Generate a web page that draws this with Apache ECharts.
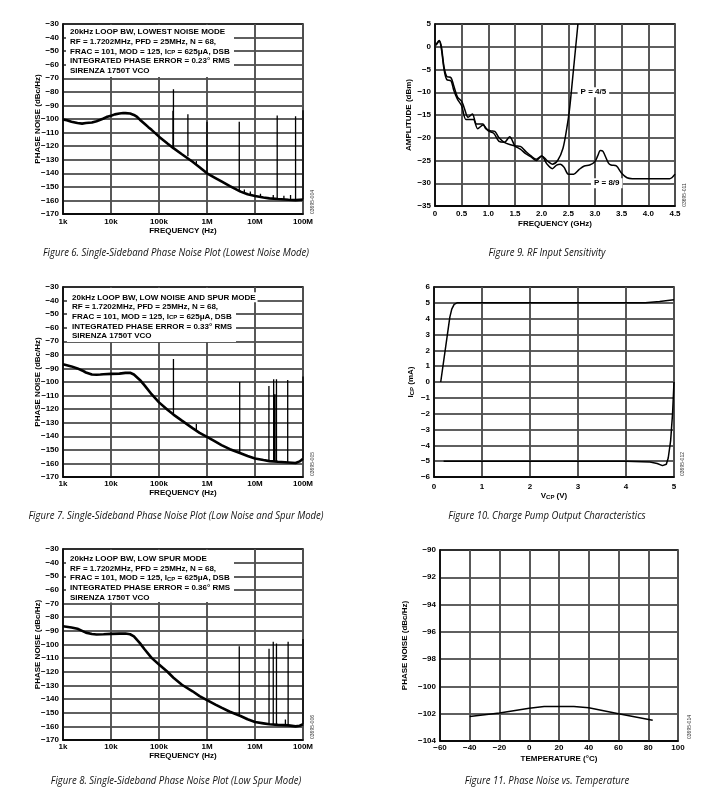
<!DOCTYPE html>
<html><head><meta charset="utf-8">
<script src="https://cdn.jsdelivr.net/npm/echarts@6/dist/echarts.min.js"></script>
<style>html,body{margin:0;padding:0;background:#fff}#c{width:717px;height:805px}</style>
</head><body><div id="c"></div>
<script>
// ---------- DATA ----------
const freqTickLabels = ['1k', '10k', '100k', '1M', '10M', '100M'];

// Figure 6 (lowest noise mode)
const fig6Freq  = [1e3,1.2e3,1.5e3,2e3,2.5e3,3e3,4e3,5e3,6e3,7e3,8e3,1e4,1.2e4,1.5e4,1.8e4,2e4,2.5e4,3e4,3.5e4,4e4,5e4,6e4,7e4,1e5,1.5e5,2e5,3e5,5e5,7e5,1e6,1.5e6,2e6,3e6,5e6,7e6,1e7,1.5e7,2e7,3e7,5e7,7e7,1e8];
const fig6Level = [-100.3,-101,-102,-103,-103.4,-103,-102.6,-101.6,-100.6,-99.6,-98.6,-97.6,-96.6,-96,-95.6,-95.7,-96,-97,-98.5,-100.5,-103.5,-106,-108,-113,-118,-121.5,-126,-131.5,-135.5,-140,-143.5,-146,-149.5,-153.5,-155.5,-156.8,-157.8,-158.5,-159,-159.5,-159.8,-159.3];
const fig6SpurFreq = [1.95e5,2e5,4e5,6e5,1e6,4.7e6,6e6,8e6,1.3e7,2.4e7,2.9e7,4e7,5.5e7,7e7,1e8];
const fig6SpurTop  = [-94,-78,-96.5,-131,-102,-102,-152,-153.5,-155,-156,-97.5,-156.5,-156,-98,-93.5];
const fig6SpurBase = [-121.3,-121.5,-127.5,-133.5,-140,-153.2,-154.2,-155.6,-157.6,-158.7,-159,-159.3,-159.6,-159.8,-159.3];

// Figure 7 (low noise and spur mode)
const fig7Freq  = [1e3,1.5e3,2e3,2.5e3,3e3,4e3,5e3,6e3,7e3,1e4,1.5e4,2e4,2.5e4,3e4,4e4,5e4,7e4,1e5,1.5e5,2e5,3e5,5e5,7e5,1e6,1.5e6,2e6,3e6,5e6,7e6,1e7,1.5e7,2e7,3e7,5e7,7e7,8.5e7,1e8];
const fig7Level = [-87,-88.5,-90,-91.5,-93,-94.5,-94.7,-94.5,-94.3,-94,-93.8,-93.3,-93.2,-94.5,-98.5,-102.5,-109,-115,-120.5,-124,-128.5,-134,-137.5,-140.5,-144,-146.5,-149.5,-152.5,-154.5,-156.3,-157.5,-158.3,-158.8,-159.3,-159.7,-158.5,-156.5];
const fig7SpurFreq = [2e5,6e5,4.8e6,1.95e7,2.45e7,2.6e7,2.8e7,4.8e7,1e8];
const fig7SpurTop  = [-83,-131,-100,-103,-98,-109,-98,-98.5,-96];
const fig7SpurBase = [-124,-135.5,-152.4,-158.2,-158.4,-158.5,-158.7,-159.2,-156.5];

// Figure 8 (low spur mode)
const fig8Freq  = [1e3,1.5e3,2e3,2.5e3,3e3,4e3,5e3,7e3,1e4,1.5e4,2e4,2.5e4,3e4,4e4,5e4,7e4,1e5,1.5e5,2e5,3e5,5e5,7e5,1e6,1.5e6,2e6,3e6,5e6,7e6,1e7,1.5e7,2e7,3e7,5e7,7e7,8.5e7,1e8];
const fig8Level = [-86.6,-87.5,-88.5,-90,-91.3,-92.3,-92.7,-92.5,-92.2,-92,-92,-92.5,-94,-99,-103.5,-109.8,-114.6,-120,-124.4,-129.5,-134.3,-137.8,-140.7,-144,-146.3,-149.3,-152.4,-154.8,-156.8,-157.8,-158.5,-158.9,-159.3,-160,-159.5,-158.5];
const fig8SpurFreq = [4.7e6,1.96e7,2.4e7,2.8e7,4.3e7,4.9e7,1e8];
const fig8SpurTop  = [-101.2,-103.2,-98,-99.3,-155,-98,-95.9];
const fig8SpurBase = [-152.3,-158.5,-158.6,-158.8,-159.2,-159.3,-158.5];

// Figure 9 (RF input sensitivity)
const rf45Freq = [0.02,0.08,0.12,0.17,0.22,0.3,0.35,0.42,0.5,0.55,0.62,0.7,0.78,0.9,0.95,1.05,1.12,1.2,1.3,1.4,1.5,1.6,1.7,1.8,1.9,2.0,2.1,2.2,2.3,2.4,2.47,2.52,2.58,2.63,2.68];
const rf45Amp  = [0.5,1.4,0,-4.5,-6.5,-6.8,-8.5,-11,-12,-13.5,-15.5,-14.8,-17,-17,-18,-18.5,-18.6,-20,-21,-21.5,-21.8,-21.9,-23,-24,-24.7,-24,-25,-25.8,-25,-22.3,-18,-14,-7,-1,5];
const rf89Freq = [0.02,0.08,0.12,0.17,0.22,0.3,0.35,0.42,0.5,0.58,0.65,0.72,0.8,0.9,1.0,1.1,1.2,1.3,1.4,1.5,1.6,1.7,1.8,1.9,2.0,2.1,2.2,2.28,2.35,2.42,2.5,2.6,2.7,2.8,2.9,3.0,3.05,3.1,3.15,3.25,3.3,3.4,3.5,3.6,3.7,4.0,4.4,4.5];
const rf89Amp  = [0.3,1.2,-0.5,-5,-7.2,-7.5,-9.5,-11.5,-13,-16,-16,-16,-18,-17.2,-18.5,-19,-20.8,-21,-19.8,-21.8,-22.5,-23.5,-24.2,-25,-24,-25.8,-26.8,-26,-25.8,-26.5,-28,-28,-27,-26.2,-26,-25.2,-24,-22.8,-23,-25.5,-26,-26.2,-27.8,-28.8,-29,-29,-29,-28];
const rf45LabelAt = [2.97, -10];
const rf89LabelAt = [3.22, -30];

// Figure 10 (charge pump output)
const cpSourceV = [0.14,0.33,0.37,0.42,0.48,1,2,3,4,4.4,4.7,5];
const cpSourceI = [0,4.1,4.6,4.9,5.0,5,5,5,5,5.0,5.08,5.2];
const cpSinkV   = [0.2,1,2,3,4,4.5,4.65,4.76,4.84,4.88,4.93,4.97,5];
const cpSinkI   = [-5,-5,-5,-5,-5,-5.05,-5.15,-5.28,-5.2,-4.8,-3.7,-2,0];

// Figure 11 (phase noise vs temperature)
const tempC     = [-40,-20,0,10,30,40,60,83];
const tempNoise = [-102.2,-101.95,-101.6,-101.47,-101.47,-101.57,-102.0,-102.48];

// Texts
const notes6 = ['20kHz LOOP BW, LOWEST NOISE MODE','RF = 1.7202MHz, PFD = 25MHz, N = 68,','FRAC = 101, MOD = 125, I{sub|CP} = 625\u03bcA, DSB','INTEGRATED PHASE ERROR = 0.23\u00b0 RMS','SIRENZA 1750T VCO'];
const notes7 = ['20kHz LOOP BW, LOW NOISE AND SPUR MODE','RF = 1.7202MHz, PFD = 25MHz, N = 68,','FRAC = 101, MOD = 125, I{sub|CP} = 625\u03bcA, DSB','INTEGRATED PHASE ERROR = 0.33\u00b0 RMS','SIRENZA 1750T VCO'];
const notes8 = ['20kHz LOOP BW, LOW SPUR MODE','RF = 1.7202MHz, PFD = 25MHz, N = 68,','FRAC = 101, MOD = 125, I{sub|CP} = 625\u03bcA, DSB','INTEGRATED PHASE ERROR = 0.36\u00b0 RMS','SIRENZA 1750T VCO'];
const captions = ['Figure 6. Single-Sideband Phase Noise Plot (Lowest Noise Mode)','Figure 9. RF Input Sensitivity','Figure 7. Single-Sideband Phase Noise Plot (Low Noise and Spur Mode)','Figure 10. Charge Pump Output Characteristics','Figure 8. Single-Sideband Phase Noise Plot (Low Spur Mode)','Figure 11. Phase Noise vs. Temperature'];
const codes = ['03695-004','03695-011','03695-005','03695-012','03695-006','03695-014'];

// ---------- CHART ----------
const FONT = '"Liberation Sans", Arial, Helvetica, sans-serif';
const CAPFONT = '"Open Sans", "Noto Sans", sans-serif';
const CAPSIZE = 11;
const zip = (a, b) => a.map((v, i) => [v, b[i]]);
const spurs = (f, top, base) => { const d = []; f.forEach((v, i) => { d.push([v, base[i]], [v, top[i]], [v, '-']); }); return d; };
const minus = v => (v < 0 ? '\u2212' : '') + Math.abs(Math.round(v * 100) / 100);
const subRich = { sub: { fontFamily: FONT, fontWeight: 'bold', fontSize: 6, color: '#000', lineHeight: 6, verticalAlign: 'bottom', padding: [0, 0, 0, 0] } };

function axis(gi, o) {
  return Object.assign({
    gridIndex: gi, nameLocation: 'middle', nameMoveOverlap: false,
    nameTextStyle: { fontFamily: FONT, fontWeight: 'bold', fontSize: 8, color: '#000', rich: subRich },
    axisLine: { show: true, onZero: false, lineStyle: { color: '#000', width: 1.5 } },
    axisTick: { show: false },
    axisLabel: { fontFamily: FONT, fontWeight: 'bold', fontSize: 8, color: '#000', margin: 4, showMinLabel: true, showMaxLabel: true, hideOverlap: false, formatter: minus },
    splitLine: { show: true, lineStyle: { color: '#2a2a2a', width: 1.5 } },
    minorTick: { show: false }, minorSplitLine: { show: false }
  }, o);
}
const vSplit = { show: true, lineStyle: { color: '#505050', width: 1.9 } };
const logLabel = (m) => ({ fontFamily: FONT, fontWeight: 'bold', fontSize: 8, color: '#000', margin: m, showMinLabel: true, showMaxLabel: true, hideOverlap: false,
  formatter: v => freqTickLabels[Math.round(Math.log10(v)) - 3] });

const grids = [
  { left: 63, top: 24, width: 240, height: 190 },
  { left: 435, top: 24, width: 240, height: 182 },
  { left: 63, top: 287, width: 240, height: 190 },
  { left: 434, top: 287, width: 240, height: 190 },
  { left: 63, top: 549, width: 240, height: 191 },
  { left: 440, top: 550, width: 238, height: 191 }
].map(g => Object.assign(g, { show: true, borderColor: '#000', borderWidth: 1.5, containLabel: false, outerBoundsMode: 'none' }));

const xAxes = [
  axis(0, { type: 'log', logBase: 10, min: 1e3, max: 1e8, name: 'FREQUENCY (Hz)', nameGap: 13, axisLabel: logLabel(4), splitLine: vSplit }),
  axis(1, { type: 'value', min: 0, max: 4.5, interval: 0.5, name: 'FREQUENCY (GHz)', nameGap: 14, splitLine: vSplit }),
  axis(2, { type: 'log', logBase: 10, min: 1e3, max: 1e8, name: 'FREQUENCY (Hz)', nameGap: 12, axisLabel: logLabel(3), splitLine: vSplit }),
  axis(3, { type: 'value', min: 0, max: 5, interval: 1, name: 'V{sub|CP} (V)', nameGap: 15, splitLine: vSplit }),
  axis(4, { type: 'log', logBase: 10, min: 1e3, max: 1e8, name: 'FREQUENCY (Hz)', nameGap: 12, axisLabel: logLabel(3), splitLine: vSplit }),
  axis(5, { type: 'value', min: -60, max: 100, interval: 20, name: 'TEMPERATURE (\u00b0C)', nameGap: 14, splitLine: vSplit })
];
xAxes[1].axisLabel = Object.assign({}, xAxes[1].axisLabel, { formatter: v => v === 0 ? '0' : v.toFixed(1) });
xAxes[3].axisLabel = Object.assign({}, xAxes[3].axisLabel, { margin: 6 });
xAxes[5].axisLabel = Object.assign({}, xAxes[5].axisLabel, { margin: 3 });

const yAxes = [
  axis(0, { type: 'value', min: -170, max: -30, interval: 10, name: 'PHASE NOISE (dBc/Hz)', nameGap: 21 }),
  axis(1, { type: 'value', min: -35, max: 5, interval: 5, name: 'AMPLITUDE (dBm)', nameGap: 22 }),
  axis(2, { type: 'value', min: -170, max: -30, interval: 10, name: 'PHASE NOISE (dBc/Hz)', nameGap: 21 }),
  axis(3, { type: 'value', min: -6, max: 6, interval: 1, name: 'I{sub|CP} (mA)', nameGap: 19 }),
  axis(4, { type: 'value', min: -170, max: -30, interval: 10, name: 'PHASE NOISE (dBc/Hz)', nameGap: 21 }),
  axis(5, { type: 'value', min: -104, max: -90, interval: 2, name: 'PHASE NOISE (dBc/Hz)', nameGap: 31 })
];

const line = (gi, data, w, extra) => Object.assign({ type: 'line', xAxisIndex: gi, yAxisIndex: gi, data, showSymbol: false, symbol: 'none', connectNulls: false, animation: false,
  lineStyle: { color: '#000', width: w }, z: 5 }, extra || {});
const pLabel = (txt, at) => ({ symbol: 'rect', symbolSize: 1, itemStyle: { color: 'rgba(0,0,0,0)' },
  label: { show: true, position: 'inside', formatter: txt, backgroundColor: '#fff', padding: [1, 3], fontFamily: FONT, fontWeight: 'bold', fontSize: 8, color: '#000' },
  data: [{ coord: at }] });

const series = [
  line(0, zip(fig6Freq, fig6Level), 2.6),
  line(0, spurs(fig6SpurFreq, fig6SpurTop, fig6SpurBase), 1.3),
  line(1, zip(rf45Freq, rf45Amp), 1.5, { smooth: 0.3, markPoint: pLabel('P = 4/5', rf45LabelAt) }),
  line(1, zip(rf89Freq, rf89Amp), 1.5, { smooth: 0.3, markPoint: pLabel('P = 8/9', rf89LabelAt) }),
  line(2, zip(fig7Freq, fig7Level), 2.6),
  line(2, spurs(fig7SpurFreq, fig7SpurTop, fig7SpurBase), 1.3),
  line(3, zip(cpSourceV, cpSourceI), 1.5),
  line(3, zip(cpSinkV, cpSinkI), 1.5),
  line(4, zip(fig8Freq, fig8Level), 2.6),
  line(4, spurs(fig8SpurFreq, fig8SpurTop, fig8SpurBase), 1.3),
  line(5, zip(tempC, tempNoise), 1.5)
];

// graphic: annotation boxes, codes, captions
const graphic = [];
function notes(lines, x, y0, lh, box) {
  graphic.push({ type: 'rect', z: 100, shape: box, style: { fill: '#fff' } });
  lines.forEach((t, i) => graphic.push({ type: 'text', z: 101, x: x, y: y0 + i * lh,
    style: { text: t, fill: '#000', fontFamily: FONT, fontWeight: 'bold', fontSize: 8, verticalAlign: 'middle',
      backgroundColor: '#fff', padding: [1, 2, 1, 2], rich: subRich } }));
}
notes(notes6, 68, 31.7, 9.85, { x: 66, y: 25, width: 168, height: 52 });
notes(notes7, 70, 297.3, 9.7, { x: 67, y: 288, width: 169, height: 54 });
notes(notes8, 68, 559, 9.6, { x: 66, y: 550, width: 168, height: 52 });

const codePos = [[313, 202], [685, 195], [313, 464], [683, 464], [313, 727], [690, 727]];
codes.forEach((c, i) => graphic.push({ type: 'text', z: 101, x: codePos[i][0], y: codePos[i][1], rotation: Math.PI / 2,
  style: { text: c, fill: '#333', fontFamily: FONT, fontSize: 5, align: 'center', verticalAlign: 'middle' } }));

// caption: condensed italic look, width calibrated so caption of Figure 6 spans ~266px
const mctx = document.createElement('canvas').getContext('2d');
mctx.font = 'italic ' + CAPSIZE + 'px ' + CAPFONT;
const capScale = 266 / mctx.measureText(captions[0]).width;
const capPos = [[176, 253], [547, 253], [176, 516], [547, 516], [176, 781], [547, 781]];
captions.forEach((c, i) => graphic.push({ type: 'text', z: 101, x: capPos[i][0], y: capPos[i][1], scaleX: capScale,
  style: { text: c, fill: '#111', fontFamily: CAPFONT, fontStyle: 'italic', fontSize: CAPSIZE, align: 'center', verticalAlign: 'middle' } }));

const chart = echarts.init(document.getElementById('c'), null, { renderer: 'canvas' });
chart.setOption({ animation: false, backgroundColor: '#fff', grid: grids, xAxis: xAxes, yAxis: yAxes, series, graphic });
</script></body></html>
